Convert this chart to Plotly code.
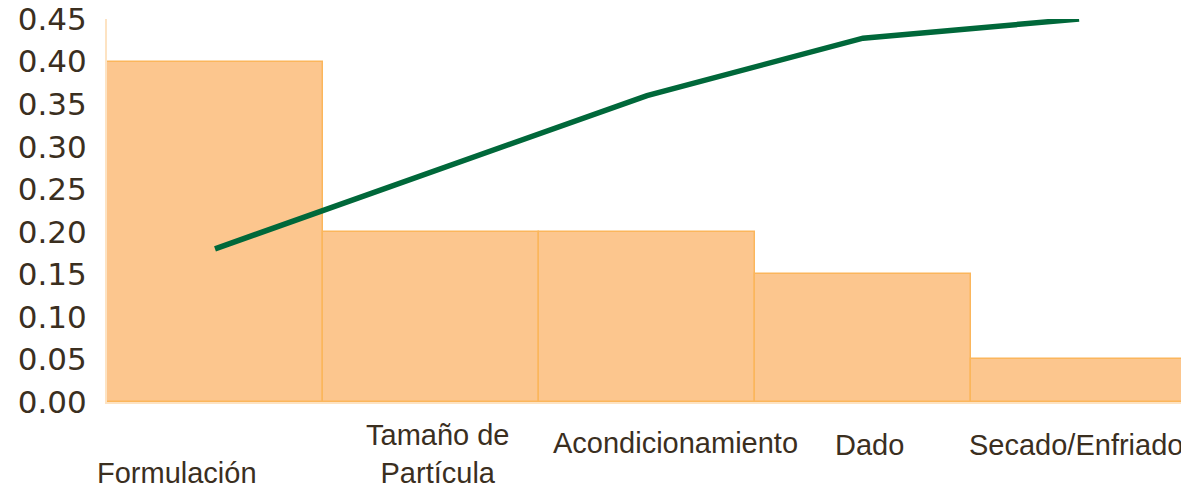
import plotly.graph_objects as go

categories = ["Formulación", "Tamaño de Partícula", "Acondicionamiento", "Dado", "Secado/Enfriado"]
label_texts = ["Formulación", "Tamaño de<br>Partícula", "Acondicionamiento", "Dado", "Secado/Enfriado"]
bar_values = [0.40, 0.20, 0.20, 0.15, 0.05]
cumulative_line = [0.18, 0.27, 0.36, 0.4275, 0.45]
y_ticks = [0.00, 0.05, 0.10, 0.15, 0.20, 0.25, 0.30, 0.35, 0.40, 0.45]

# label placement (pixel offsets) to mimic staggered labels
label_xshift = [-38, 7, 28, 6, -3]
label_y = [-0.185, -0.135, -0.107, -0.112, -0.112]

text_color = "#3b2f1f"

fig = go.Figure()
fig.add_trace(go.Bar(
    x=list(range(len(categories))),
    y=bar_values,
    width=1,
    marker=dict(color="#fcc68e", line=dict(color="#fbb65c", width=1.5)),
    showlegend=False,
    hoverinfo="skip",
))
fig.add_trace(go.Scatter(
    x=list(range(len(categories))),
    y=cumulative_line,
    mode="lines",
    line=dict(color="#00683a", width=5.5),
    cliponaxis=False,
    showlegend=False,
    hoverinfo="skip",
))

for i, t in enumerate(label_texts):
    fig.add_annotation(
        x=i, y=label_y[i], xref="x", yref="paper", text=t, showarrow=False,
        xshift=label_xshift[i], yanchor="middle", xanchor="center",
        font=dict(family="Liberation Sans, Arial", size=29, color=text_color),
        align="center",
    )

fig.update_layout(
    width=1181, height=487,
    margin=dict(l=107, r=0, t=19, b=85),
    paper_bgcolor="white", plot_bgcolor="white",
    bargap=0,
    xaxis=dict(range=[-0.5, 4.472], showticklabels=False, showgrid=False, zeroline=False,
               showline=True, linecolor="#fde3c3", linewidth=2, ticks=""),
    yaxis=dict(range=[0, 0.45], tickvals=y_ticks, tickformat=".2f", showgrid=False,
               zeroline=False, showline=True, linecolor="#fde3c3", linewidth=2, ticks="",
               ticklabelstandoff=12,
               tickfont=dict(family="DejaVu Sans", size=31, color=text_color)),
)

fig.write_html("out.html")
